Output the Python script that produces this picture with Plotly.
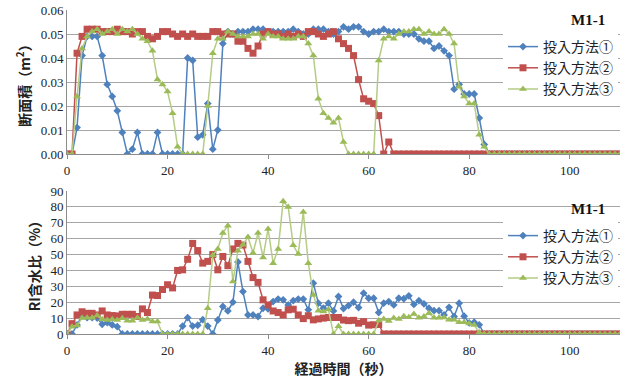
import plotly.graph_objects as go
from plotly.subplots import make_subplots

time_s = list(range(0, 111))

area_m1 = [0, 0, 0.011, 0.041, 0.049, 0.049, 0.049, 0.041, 0.029, 0.024,
           0.018, 0.009, 0, 0.002, 0.009, 0, 0, 0, 0.009, 0,
           0, 0, 0, 0, 0.040, 0.039, 0.007, 0.008, 0.021, 0.002,
           0.010, 0.046, 0.051, 0.050, 0.051, 0.051, 0.051, 0.052, 0.052, 0.052,
           0.051, 0.051, 0.051, 0.051, 0.051, 0.052, 0.051, 0.050, 0.050, 0.052,
           0.052, 0.052, 0.051, 0.050, 0.051, 0.053, 0.052, 0.053, 0.053, 0.051,
           0.050, 0.051, 0.051, 0.052, 0.051, 0.051, 0.051, 0.050, 0.050, 0.050,
           0.048, 0.047, 0.047, 0.044, 0.045, 0.043, 0.041, 0.027, 0.029, 0.025,
           0.025, 0.025, 0.015, 0.004, 0, 0, 0, 0, 0, 0,
           0, 0, 0, 0, 0, 0, 0, 0, 0, 0,
           0, 0, 0, 0, 0, 0, 0, 0, 0, 0, 0]

area_m2 = [0, 0, 0.042, 0.049, 0.052, 0.052, 0.052, 0.051, 0.051, 0.051,
           0.052, 0.051, 0.051, 0.050, 0.051, 0.051, 0.049, 0.048, 0.049, 0.051,
           0.051, 0.050, 0.049, 0.050, 0.049, 0.050, 0.049, 0.049, 0.049, 0.051,
           0.051, 0.050, 0.050, 0.050, 0.047, 0.047, 0.044, 0.042, 0.045, 0.050,
           0.051, 0.050, 0.050, 0.049, 0.050, 0.049, 0.050, 0.049, 0.051, 0.051,
           0.050, 0.049, 0.050, 0.051, 0.048, 0.046, 0.044, 0.041, 0.031, 0.023,
           0.022, 0.021, 0.016, 0, 0.005, 0, 0, 0, 0, 0,
           0, 0, 0, 0, 0, 0, 0, 0, 0, 0,
           0, 0, 0, 0, 0, 0, 0, 0, 0, 0,
           0, 0, 0, 0, 0, 0, 0, 0, 0, 0,
           0, 0, 0, 0, 0, 0, 0, 0, 0, 0, 0]

area_m3 = [0, 0, 0.024, 0.044, 0.049, 0.051, 0.052, 0.050, 0.051, 0.052,
           0.050, 0.052, 0.051, 0.052, 0.050, 0.048, 0.047, 0.043, 0.031, 0.029,
           0.026, 0.017, 0.003, 0, 0, 0, 0, 0, 0.020, 0.042,
           0.048, 0.048, 0.051, 0.050, 0.049, 0.049, 0.049, 0.050, 0.050, 0.048,
           0.050, 0.049, 0.049, 0.048, 0.048, 0.048, 0.049, 0.049, 0.046, 0.041,
           0.023, 0.017, 0.015, 0.013, 0.015, 0.005, 0, 0, 0, 0,
           0, 0, 0.039, 0.048, 0.049, 0.048, 0.050, 0.051, 0.051, 0.052,
           0.052, 0.050, 0.051, 0.050, 0.050, 0.052, 0.050, 0.046, 0.028, 0.024,
           0.021, 0.021, 0.008, 0.003, 0, 0, 0, 0, 0, 0,
           0, 0, 0, 0, 0, 0, 0, 0, 0, 0,
           0, 0, 0, 0, 0, 0, 0, 0, 0, 0, 0]

ri_m1 = [0, 0, 5.7, 11.4, 10.3, 10.3, 10, 6.1, 7.2, 5.7,
         4.6, 0, 0, 0, 0, 0, 0, 0, 0, 0,
         0, 0, 0, 5, 10.3, 5, 5.5, 9, 5, 0,
         8.8, 17.3, 14.5, 20, 45.3, 26.7, 12, 12, 11, 16.2,
         15.8, 20.4, 22, 21.5, 18.3, 21, 22, 22, 15.2, 32,
         19.4, 16.2, 19.4, 14.5, 23.6, 16, 17.9, 20, 16.6, 25.7,
         22.5, 22.5, 13.5, 19.4, 20.4, 18.3, 22.5, 22.2, 24, 18.6,
         21, 19, 16.2, 14.7, 14.7, 12, 16.8, 11, 19.4, 11.2,
         7, 7.4, 5.8, 0, 0, 0, 0, 0, 0, 0,
         0, 0, 0, 0, 0, 0, 0, 0, 0, 0,
         0, 0, 0, 0, 0, 0, 0, 0, 0, 0, 0]

ri_m2 = [0, 6.5, 12, 14, 13, 13, 12, 14.5, 12, 11.6,
         11.4, 12.4, 12.4, 12.4, 11, 15.8, 13.5, 24.5, 24.2, 28,
         31, 29, 40, 40.4, 47, 57, 52.5, 44.6, 45.7, 50,
         40.4, 48.8, 43, 53.5, 57, 56, 45.7, 35.5, 32.5, 21.5,
         18.3, 14.5, 13.5, 12, 15.2, 15.6, 12, 9.7, 11.5, 8.9,
         9.5, 10, 10.4, 10.4, 10.4, 8.8, 8.4, 8.6, 6.8, 7.8,
         5.6, 5.8, 6, 0, 0, 0, 0, 0, 0, 0,
         0, 0, 0, 0, 0, 0, 0, 0, 0, 0,
         0, 0, 0, 0, 0, 0, 0, 0, 0, 0,
         0, 0, 0, 0, 0, 0, 0, 0, 0, 0,
         0, 0, 0, 0, 0, 0, 0, 0, 0, 0, 0]

ri_m3 = [0, 4.6, 5.3, 10, 10.3, 10.3, 11.6, 9.3, 8.8, 9.3,
         8.8, 9.9, 8.4, 8.4, 10.3, 8.8, 9.5, 7.8, 7.8, 0,
         0, 0, 0, 0, 0, 0, 0, 0, 16.2, 49.5,
         53.5, 63.6, 68.2, 33, 52.4, 56.2, 61, 51, 63.6, 48.2,
         66.1, 44.6, 53.5, 83.6, 80, 55.8, 50.3, 76.8, 44.6, 24.6,
         14.7, 14.1, 15.4, 0, 4.8, 0, 0, 0, 0, 0,
         0, 0, 8.5, 9.5, 8.2, 10, 9.5, 11.2, 10.6, 12.6,
         10.2, 11, 13.1, 10.2, 10.2, 10.4, 8.9, 8.9, 7.4, 7.4,
         6.6, 5.6, 1, 0, 0, 0, 0, 0, 0, 0,
         0, 0, 0, 0, 0, 0, 0, 0, 0, 0,
         0, 0, 0, 0, 0, 0, 0, 0, 0, 0, 0]

names = ["投入方法①", "投入方法②", "投入方法③"]
x_ticks = [0, 20, 40, 60, 80, 100]
area_ticks = [0.00, 0.01, 0.02, 0.03, 0.04, 0.05, 0.06]
ri_ticks = [0, 10, 20, 30, 40, 50, 60, 70, 80, 90]

colors = ["#4F81BD", "#C0504D", "#9BBB59"]
line_colors = ["#4F81BD", "#C0504D", "#B5CC85"]
symbols = ["diamond", "square", "triangle-up"]
msizes = [6, 7, 7]

fig = make_subplots(rows=2, cols=1, vertical_spacing=0.1)

for i, ys in enumerate([area_m1, area_m2, area_m3]):
    fig.add_trace(go.Scatter(x=time_s, y=ys, name=names[i], mode="lines+markers",
                             line=dict(color=line_colors[i], width=1.5),
                             marker=dict(symbol=symbols[i], size=msizes[i], color=colors[i]),
                             legend="legend"), row=1, col=1)
for i, ys in enumerate([ri_m1, ri_m2, ri_m3]):
    fig.add_trace(go.Scatter(x=time_s, y=ys, name=names[i], mode="lines+markers",
                             line=dict(color=line_colors[i], width=1.5),
                             marker=dict(symbol=symbols[i], size=msizes[i], color=colors[i]),
                             legend="legend2"), row=2, col=1)

tick_font = dict(family="Liberation Serif", size=13, color="#222222")
grid_col = "#A6A6A6"

W = 624; H = 385
L = 67; R = 4; T = 10; B = 51
ph = H - T - B
pw = W - L - R
def fy(p):
    return (H - B - p) / ph
def fx(p):
    return (p - L) / pw

xcommon = dict(range=[0, 110], tickvals=x_ticks, showgrid=False, showline=True,
               linecolor="#8C8C8C", linewidth=1, ticks="outside", ticklen=4,
               tickcolor="#8C8C8C", tickfont=tick_font, zeroline=False, automargin=False,
               ticklabeloverflow="allow")
fig.update_xaxes(**xcommon)
fig.update_xaxes(title=dict(text="<b>経過時間（秒）</b>",
                            font=dict(family="Noto Sans CJK JP", size=14, color="#222222"),
                            standoff=6), row=2, col=1)

fig.update_yaxes(range=[0, 0.06], tickvals=area_ticks, tickformat=".2f",
                 showgrid=True, gridcolor=grid_col, gridwidth=1, automargin=False,
                 showline=True, linecolor="#8C8C8C", zeroline=False, ticklabeloverflow="allow",
                 tickfont=tick_font, domain=[fy(154), fy(10)],
                 title=dict(text="<b>断面積（m<sup>2</sup>）</b>",
                            font=dict(family="Noto Sans CJK JP", size=14, color="#222222"),
                            standoff=6), row=1, col=1)
fig.update_yaxes(range=[0, 90], tickvals=ri_ticks,
                 showgrid=True, gridcolor=grid_col, gridwidth=1, automargin=False,
                 showline=True, linecolor="#8C8C8C", zeroline=False, ticklabeloverflow="allow",
                 tickfont=tick_font, domain=[fy(334), fy(191)],
                 title=dict(text="<b>RI含水比（%）</b>",
                            font=dict(family="Noto Sans CJK JP", size=14, color="#222222"),
                            standoff=6), row=2, col=1)

leg_common = dict(bgcolor="white", borderwidth=0, xanchor="left", yanchor="top",
                  font=dict(family="Noto Sans CJK JP", size=14, color="#222222"),
                  tracegroupgap=0, itemwidth=30)
ann_font = dict(family="Liberation Serif", size=15, color="#111111")
fig.update_layout(
    width=W, height=H,
    margin=dict(l=L, r=R, t=T, b=B, autoexpand=False),
    paper_bgcolor="white", plot_bgcolor="white",
    showlegend=True,
    legend=dict(x=fx(503), y=fy(31), **leg_common),
    legend2=dict(x=fx(503), y=fy(220), **leg_common),
    annotations=[
        dict(text="<b>M1-1</b>", x=fx(588), y=fy(20), xref="paper", yref="paper",
             xanchor="center", yanchor="middle", showarrow=False, font=ann_font),
        dict(text="<b>M1-1</b>", x=fx(588), y=fy(209), xref="paper", yref="paper",
             xanchor="center", yanchor="middle", showarrow=False, font=ann_font),
    ],
)

fig.write_html("out.html", config={"displayModeBar": False},
               post_script="document.body.style.margin='0px';document.body.style.overflow='hidden';")
